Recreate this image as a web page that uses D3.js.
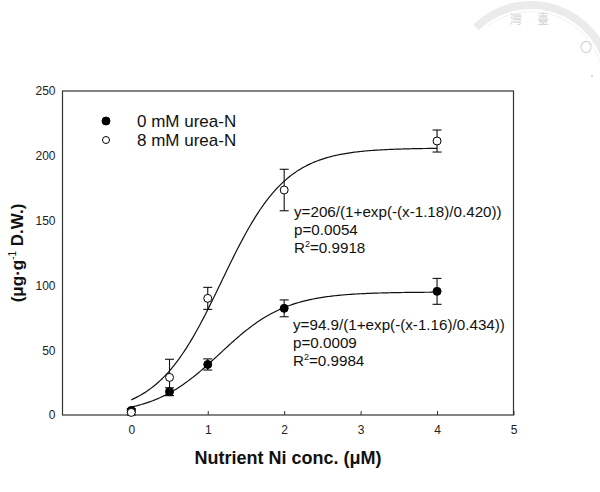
<!DOCTYPE html>
<html><head><meta charset="utf-8">
<script src="https://cdn.jsdelivr.net/npm/d3@7"></script>
<style>html,body{margin:0;padding:0;background:#fff;}svg{display:block;font-family:Arial,"Liberation Sans",sans-serif;}</style>
</head><body><svg id="c" width="600" height="492"></svg>
<script>
const xs = [0, 0.5, 1, 2, 4];
const y0mM = [3.5, 18, 39, 82.3, 95.4];
const e0mM = [1.5, 3, 4.3, 6.5, 10];
const y8mM = [2, 29, 90, 173.6, 211.4];
const e8mM = [2, 14, 8.5, 16, 8.5];
const seriesNames = ["0 mM urea-N", "8 mM urea-N"];
const fit0 = [94.9, 1.16, 0.434];
const fit8 = [206, 1.18, 0.420];
const xTicks = [0, 1, 2, 3, 4, 5];
const yTicks = [0, 50, 100, 150, 200, 250];
const eqLines0 = ["y=94.9/(1+exp(-(x-1.16)/0.434))", "p=0.0009", "0.9984"];
const eqLines8 = ["y=206/(1+exp(-(x-1.18)/0.420))", "p=0.0054", "0.9918"];

const svg = d3.select("#c");
const L = 62.5, R = 513.5, T = 91, B = 415;
const x = d3.scaleLinear().domain([-0.9, 5]).range([L, R]);
const y = d3.scaleLinear().domain([0, 250]).range([B, T]);

// watermark (faint seal, top right)
const wm = svg.append("g");
const arc = d3.arc().innerRadius(75).outerRadius(83)
  .startAngle(-Math.PI * 0.25 * 0.0 - Math.PI * 0.245).endAngle(Math.PI * 0.45);
wm.append("path").attr("transform", "translate(531,84)").attr("d", arc).attr("fill", "#ebebeb");
const arc2 = d3.arc().innerRadius(72).outerRadius(72.8)
  .startAngle(-Math.PI * 0.2).endAngle(Math.PI * 0.45);
wm.append("path").attr("transform", "translate(531,84)").attr("d", arc2).attr("fill", "#f0f0f0");
[["灣", 510, 24], ["臺", 537, 24], ["〇", 580, 52]].forEach(d =>
  wm.append("text").attr("x", d[1]).attr("y", d[2]).attr("font-size", 12).attr("fill", "#cfcfcf")
    .attr("font-family", "Noto Sans CJK TC").text(d[0]));
wm.append("circle").attr("cx", 592).attr("cy", 76).attr("r", 1).attr("fill", "#ccc");

// frame
svg.append("rect").attr("x", L).attr("y", T).attr("width", R - L).attr("height", B - T)
  .attr("fill", "none").attr("stroke", "#333").attr("stroke-width", 1.2);

// x axis
const xa = svg.append("g").attr("transform", `translate(0,${B})`)
  .call(d3.axisBottom(x).tickValues(xTicks).tickSize(-4).tickPadding(10).tickFormat(d3.format("d")));
xa.select(".domain").remove();
xa.selectAll("line").attr("stroke", "#333");
xa.selectAll("text").attr("font-size", 12).attr("fill", "#222").attr("font-family", "Arial, Liberation Sans, sans-serif");

// y axis
const ya = svg.append("g").attr("transform", `translate(${L},0)`)
  .call(d3.axisLeft(y).tickValues(yTicks).tickSize(0).tickPadding(7));
ya.select(".domain").remove();
ya.selectAll("text").attr("font-size", 12).attr("fill", "#222").attr("font-family", "Arial, Liberation Sans, sans-serif");

// titles
svg.append("text").attr("x", (L + R) / 2).attr("y", 464).attr("text-anchor", "middle")
  .attr("font-size", 18).attr("font-weight", "bold").attr("fill", "#111").text("Nutrient Ni conc. (μM)");
const yt = svg.append("text").attr("transform", `translate(23,${(T + B) / 2}) rotate(-90)`)
  .attr("text-anchor", "middle").attr("font-size", 17).attr("font-weight", "bold").attr("fill", "#111");
yt.append("tspan").text("(μg·g");
yt.append("tspan").attr("dy", -7).attr("font-size", 10).attr("font-weight", "normal").text("-1");
yt.append("tspan").attr("dy", 7).text(" D.W.)");

// fitted curves
const logistic = p => xv => p[0] / (1 + Math.exp(-(xv - p[1]) / p[2]));
const line = d3.line().x(d => x(d[0])).y(d => y(d[1]));
[fit0, fit8].forEach(p => {
  const f = logistic(p);
  const pts = d3.range(0, 4.0001, 0.02).map(v => [v, f(v)]);
  svg.append("path").attr("d", line(pts)).attr("fill", "none").attr("stroke", "#111").attr("stroke-width", 1.2);
});

// error bars + points
function drawSeries(vals, errs, filled) {
  const g = svg.append("g");
  xs.forEach((xv, i) => {
    const cx = x(xv), top = y(vals[i] + errs[i]), bot = y(Math.max(0, vals[i] - errs[i]));
    g.append("line").attr("x1", cx).attr("x2", cx).attr("y1", top).attr("y2", bot).attr("stroke", "#111").attr("stroke-width", 1.1);
    [top, bot].forEach(yy => g.append("line").attr("x1", cx - 4.5).attr("x2", cx + 4.5).attr("y1", yy).attr("y2", yy).attr("stroke", "#111").attr("stroke-width", 1.1));
  });
  g.selectAll("circle").data(xs).join("circle")
    .attr("cx", d => x(d)).attr("cy", (d, i) => y(vals[i])).attr("r", 4)
    .attr("fill", filled ? "#000" : "#fff").attr("stroke", "#000").attr("stroke-width", 1);
}
drawSeries(y0mM, e0mM, true);
drawSeries(y8mM, e8mM, false);

// legend
seriesNames.forEach((n, i) => {
  const yy = 121 + i * 19;
  svg.append("circle").attr("cx", 106).attr("cy", yy).attr("r", i === 0 ? 4 : 3.5)
    .attr("fill", i === 0 ? "#000" : "#fff").attr("stroke", "#000").attr("stroke-width", 1);
  svg.append("text").attr("x", 137).attr("y", yy + 6).attr("font-size", 17).attr("fill", "#111").text(n);
});

// equations
function eq(lines, x0, y0) {
  const g = svg.append("g").attr("font-size", 15.2).attr("fill", "#111");
  g.append("text").attr("x", x0).attr("y", y0).text(lines[0]);
  g.append("text").attr("x", x0).attr("y", y0 + 18).text(lines[1]);
  const t = g.append("text").attr("x", x0).attr("y", y0 + 36);
  t.append("tspan").text("R");
  t.append("tspan").attr("dy", -6).attr("font-size", 9).text("2");
  t.append("tspan").attr("dy", 6).text("=" + lines[2]);
}
eq(eqLines8, 294, 217);
eq(eqLines0, 293, 330);
</script></body></html>
